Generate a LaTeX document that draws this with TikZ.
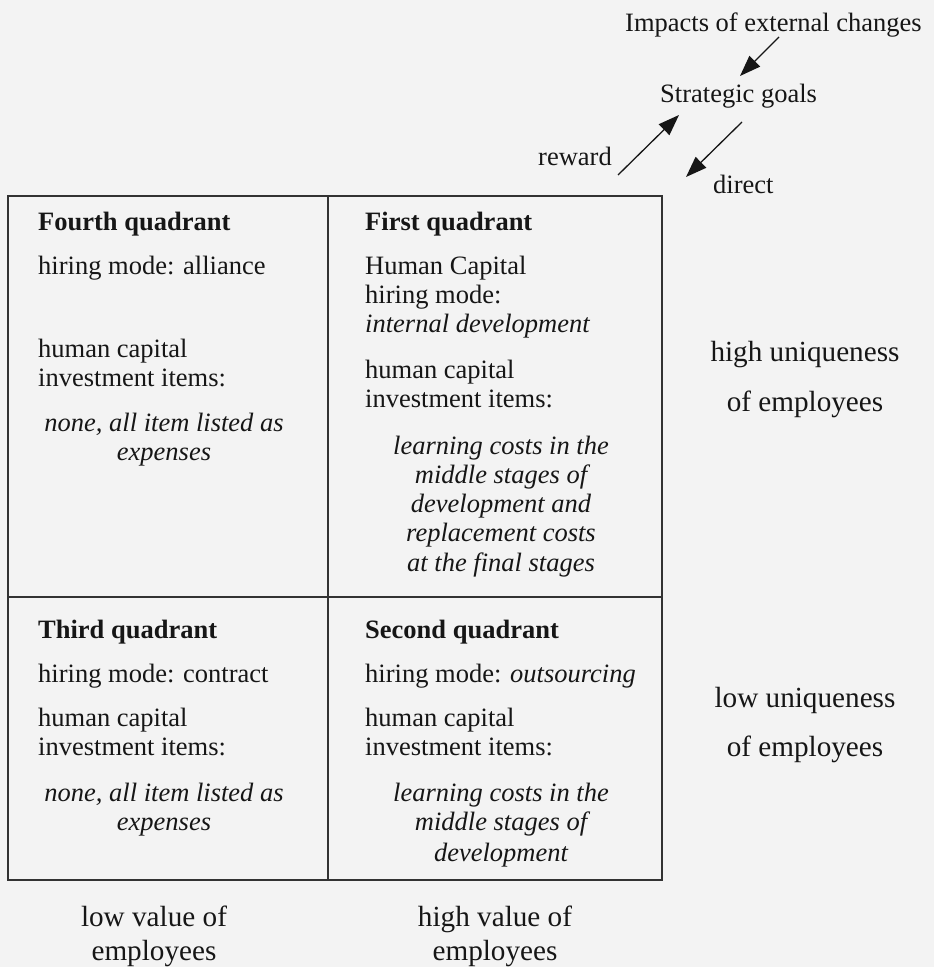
\documentclass[tikz,border=0pt]{standalone}
\usepackage{fontspec}
\setmainfont{Liberation Serif}
\usetikzlibrary{arrows.meta}
\definecolor{ink}{RGB}{22,22,22}
\definecolor{rule}{RGB}{50,50,50}
\definecolor{paper}{RGB}{243,243,243}
\begin{document}
\begin{tikzpicture}[x=1pt,y=-1pt,
  txt/.style={font=\fontsize{26.5}{30}\selectfont, inner sep=0pt, text=ink, anchor=base west},
  ctxt/.style={font=\fontsize{26.5}{30}\selectfont\itshape, inner sep=0pt, text=ink, anchor=base},
  ttl/.style={font=\fontsize{26.5}{30}\selectfont\bfseries, inner sep=0pt, text=ink, anchor=base west},
  side/.style={font=\fontsize{29.2}{32}\selectfont, inner sep=0pt, text=ink, anchor=base},
  frame/.style={draw=rule, line width=1.3pt},
  arr/.style={draw=ink, line width=1.3pt, -{Triangle[length=21pt,width=15pt]}}]
\fill[paper] (0,0) rectangle (934,967);
\useasboundingbox (0,0) rectangle (934,967);

% grid
\draw[frame] (8,196) rectangle (662,880);
\draw[frame] (328,196) -- (328,880);
\draw[frame] (8,597) -- (662,597);

% top
\node[txt] (imp) at (625,31.7) {Impacts of external changes};
\node[txt] (goals) at (660,102.5) {Strategic goals};
\node[txt] (reward) at (538,165.7) {reward};
\node[txt] (direct) at (713,193) {direct};
\coordinate (a1s) at (779,37);
\coordinate (a1e) at (740,76);
\coordinate (a2s) at (618,175);
\coordinate (a2e) at (679,115);
\coordinate (a3s) at (742,122);
\coordinate (a3e) at (686,177);
\draw[arr] (a1s) -- (a1e);
\draw[arr] (a2s) -- (a2e);
\draw[arr] (a3s) -- (a3e);

% fourth quadrant
\node[ttl] (q4t) at (38,230.7) {Fourth quadrant};
\node[txt] (q4h) at (38,274) {hiring mode: alliance};
\node[txt] (q4c1) at (38,357.7) {human capital};
\node[txt] (q4c2) at (38,386.7) {investment items:};
\node[ctxt] (q4i1) at (164,431.7) {none, all item listed as};
\node[ctxt] (q4i2) at (164,460.7) {expenses};

% first quadrant
\node[ttl] (q1t) at (365,230.7) {First quadrant};
\node[txt] (q1h1) at (365,274) {Human Capital};
\node[txt] (q1h2) at (365,303) {hiring mode:};
\node[txt,font=\fontsize{26.5}{30}\selectfont\itshape] (q1h3) at (365,332) {internal development};
\node[txt] (q1c1) at (365,378.7) {human capital};
\node[txt] (q1c2) at (365,407.7) {investment items:};
\node[ctxt] (q1i1) at (501,454) {learning costs in the};
\node[ctxt] (q1i2) at (501,483) {middle stages of};
\node[ctxt] (q1i3) at (501,512.5) {development and};
\node[ctxt] (q1i4) at (501,541.7) {replacement costs};
\node[ctxt] (q1i5) at (501,571.5) {at the final stages};

% third quadrant
\node[ttl] (q3t) at (38,638) {Third quadrant};
\node[txt] (q3h) at (38,682.7) {hiring mode: contract};
\node[txt] (q3c1) at (38,726.7) {human capital};
\node[txt] (q3c2) at (38,755.7) {investment items:};
\node[ctxt] (q3i1) at (164,801.7) {none, all item listed as};
\node[ctxt] (q3i2) at (164,830.7) {expenses};

% second quadrant
\node[ttl] (q2t) at (365,638) {Second quadrant};
\node[txt] (q2h) at (365,682.7) {hiring mode: \textit{outsourcing}};
\node[txt] (q2c1) at (365,726.7) {human capital};
\node[txt] (q2c2) at (365,755.7) {investment items:};
\node[ctxt] (q2i1) at (501,801.7) {learning costs in the};
\node[ctxt] (q2i2) at (501,830.7) {middle stages of};
\node[ctxt] (q2i3) at (501,861) {development};

% side labels
\node[side] (hu1) at (805,361) {high uniqueness};
\node[side] (hu2) at (805,411) {of employees};
\node[side] (lu1) at (805,707.7) {low uniqueness};
\node[side] (lu2) at (805,756.7) {of employees};

% bottom labels
\node[side] (lv1) at (154,926) {low value of};
\node[side] (lv2) at (154,960) {employees};
\node[side] (hv1) at (495,926) {high value of};
\node[side] (hv2) at (495,960) {employees};
\end{tikzpicture}
\end{document}
